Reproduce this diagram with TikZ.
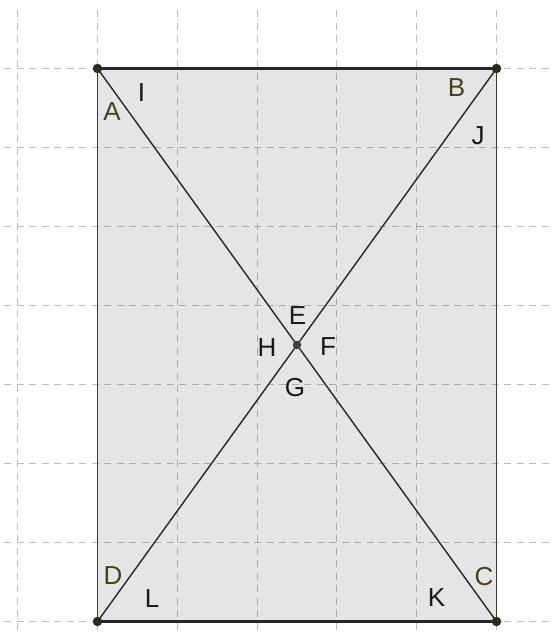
\documentclass[tikz,border=0pt]{standalone}
\usepackage{fontspec}
\setmainfont{Liberation Sans}
\definecolor{gridgray}{RGB}{190,190,190}
\definecolor{olivedark}{RGB}{68,68,24}
\definecolor{ptfill}{RGB}{40,46,30}
\definecolor{edgegray}{RGB}{60,60,60}
\begin{document}
\begin{tikzpicture}[x=1pt,y=-1pt,
  gridline/.style={draw=gridgray,line width=1.1pt,dash pattern=on 7pt off 5.5pt},
  edge/.style={draw=black!85,line width=2.3pt},
  side/.style={draw=edgegray,line width=1.8pt},
  diag/.style={draw=black!85,line width=1.4pt},
  pt/.style={circle,fill=ptfill,inner sep=0pt,minimum size=9.5pt},
  lbl/.style={inner sep=0pt,text height=18.5pt,text depth=0pt,anchor=center,font=\fontsize{26}{30}\selectfont},
  vlbl/.style={lbl,text=olivedark},
  albl/.style={lbl,text=black!90}]
\useasboundingbox (0,0) rectangle (553,635);
% grid
\foreach \x in {17.7,97.5,177.3,257.1,336.9,416.7,496.5}
  \draw[gridline] (\x,10) -- (\x,635);
\foreach \y in {68.5,147.5,226.5,305.5,384.5,463.5,542.5,621.5}
  \draw[gridline] (4,\y) -- (553,\y);
% vertices
\coordinate (A) at (97.5,68.5);
\coordinate (B) at (496.5,68.5);
\coordinate (C) at (496.5,621.5);
\coordinate (D) at (97.5,621.5);
\coordinate (E) at (297,345);
% fill
\fill[black,fill opacity=0.1] (A) -- (B) -- (C) -- (D) -- cycle;
% edges
\draw[side] (B) -- (C);
\draw[side] (D) -- (A);
\draw[edge] (A) -- (B);
\draw[edge] (D) -- (C);
\draw[diag] (A) -- (C);
\draw[diag] (B) -- (D);
% points
\node[pt] (pA) at (A) {};
\node[pt] (pB) at (B) {};
\node[pt] (pC) at (C) {};
\node[pt] (pD) at (D) {};
\node[pt,minimum size=8.5pt,fill=black!75] (pE) at (E) {};
% labels
\node[vlbl] (lA) at (112,111) {A};
\node[vlbl] (lB) at (456.5,87) {B};
\node[vlbl] (lC) at (484,576) {C};
\node[vlbl] (lD) at (113,575) {D};
\node[albl] (lE) at (297.5,315) {E};
\node[albl] (lF) at (328,346) {F};
\node[albl] (lG) at (295,387) {G};
\node[albl] (lH) at (267,347) {H};
\node[albl] (lI) at (141.5,92) {I};
\node[albl] (lJ) at (478,135) {J};
\node[albl] (lK) at (436.5,597) {K};
\node[albl] (lL) at (152,598) {L};
\end{tikzpicture}
\end{document}
